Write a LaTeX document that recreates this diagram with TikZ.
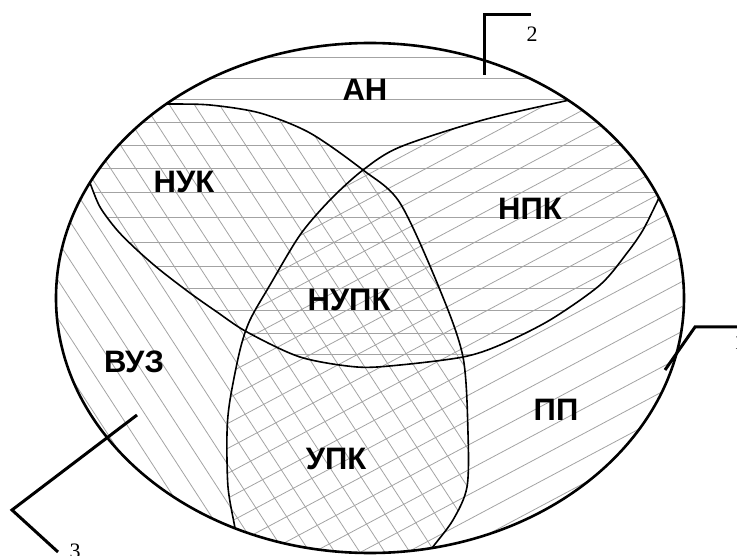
\documentclass[tikz,border=0pt]{standalone}
\usepackage{fontspec}
\setmainfont{Liberation Serif}
\newfontfamily\labfont{Liberation Sans}
\begin{document}
\begin{tikzpicture}[x=1pt,y=-1pt,
  hatch/.style={draw=black!36, line width=0.8pt},
  setline/.style={line width=1.6pt},
  outline/.style={line width=2.6pt},
  leader/.style={line width=3pt},
  lab/.style={font=\labfont\bfseries\fontsize{31}{31}\selectfont, inner sep=0pt},
  num/.style={font=\fontsize{22}{22}\selectfont, inner sep=0pt}]
\useasboundingbox (0,0) rectangle (737,556);

% hatching
\begin{scope}
  \clip (370,298) ellipse [x radius=314, y radius=255];
  % set A (top): horizontal lines
  \begin{scope}
    \clip plot[smooth] coordinates {(86,173) (90,183) (100,207) (117,230) (137,250) (160,270) (190,293) (217,312) (247,332) (300,357) (357,367) (400,365) (463,357) (500,345) (550,320) (600,285) (627,253) (643,230) (658,200) (663,190)}
      -- (737,190) -- (737,0) -- (0,0) -- (0,173) -- cycle;
    \foreach \y in {57,78,99,122,145,168,192,217,242,266,288,310,333,354}
      \draw[hatch] (0,\y) -- (737,\y);
  \end{scope}
  % set B (right): / lines
  \begin{scope}
    \clip plot[smooth] coordinates {(578,98) (565,101) (483,120) (400,147) (363,170) (330,200) (300,235) (270,285) (250,320) (240,350) (230,400) (227,433) (228,487) (235,528) (238,545)}
      -- (238,600) -- (737,600) -- (737,98) -- cycle;
    \begin{scope}[rotate around={28:(370,298)}]
      \foreach \k in {-24,...,24}
        \draw[hatch] (-300,298+22*\k) -- (1040,298+22*\k);
    \end{scope}
  \end{scope}
  % set C (left): \ lines
  \begin{scope}
    \clip plot[smooth] coordinates {(158,104) (170,104) (210,105) (260,113) (310,133) (363,170) (400,203) (440,290) (463,357) (468,433) (467,487) (453,520) (432,548) (425,558)}
      -- (0,558) -- (0,104) -- cycle;
    \begin{scope}[rotate around={-57:(370,298)}]
      \foreach \k in {-26,...,26}
        \draw[hatch] (-300,298+21*\k) -- (1040,298+21*\k);
    \end{scope}
  \end{scope}
  % boundaries of the three sets
  \draw[setline] plot[smooth] coordinates {(86,173) (90,183) (100,207) (117,230) (137,250) (160,270) (190,293) (217,312) (247,332) (300,357) (357,367) (400,365) (463,357) (500,345) (550,320) (600,285) (627,253) (643,230) (658,200) (663,190)};
  \draw[setline] plot[smooth] coordinates {(578,98) (565,101) (483,120) (400,147) (363,170) (330,200) (300,235) (270,285) (250,320) (240,350) (230,400) (227,433) (228,487) (235,528) (238,545)};
  \draw[setline] plot[smooth] coordinates {(158,104) (170,104) (210,105) (260,113) (310,133) (363,170) (400,203) (440,290) (463,357) (468,433) (467,487) (453,520) (432,548) (425,558)};
\end{scope}

% outer ellipse
\draw[outline] (370,298) ellipse [x radius=314, y radius=255];

% leaders
\coordinate (l2a) at (484,75);
\coordinate (l2b) at (484,15);
\coordinate (l2c) at (531,15);
\draw[leader] (l2a) -- (l2b) -- (l2c);
\node[num] (n2) at (532,34) {2};

\coordinate (l3a) at (137,415);
\coordinate (l3b) at (12,510);
\coordinate (l3c) at (58,552);
\draw[leader] (l3a) -- (l3b) -- (l3c);
\node[num] (n3) at (75,551) {3};

\coordinate (l1a) at (665,370);
\coordinate (l1b) at (695,327);
\coordinate (l1c) at (745,327);
\draw[leader] (l1a) -- (l1b) -- (l1c);
\node[num, anchor=west] (n1) at (734,342) {1};

% region labels
\node[lab] (an) at (365,90) {АН};
\node[lab] (nuk) at (184,182) {НУК};
\node[lab] (npk) at (530,209) {НПК};
\node[lab] (nupk) at (349,300) {НУПК};
\node[lab] (vuz) at (134,362) {ВУЗ};
\node[lab] (upk) at (336,459) {УПК};
\node[lab] (pp) at (556,410) {ПП};
\end{tikzpicture}
\end{document}
